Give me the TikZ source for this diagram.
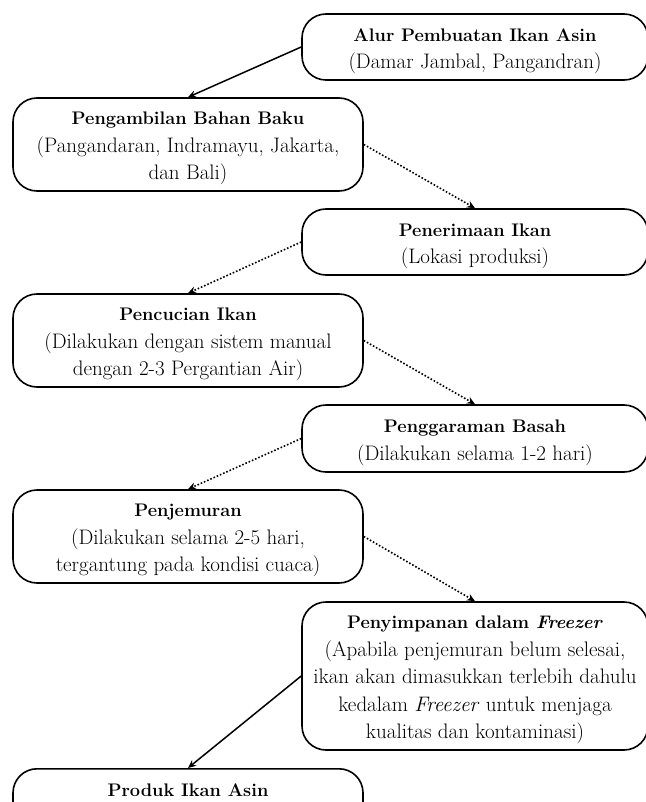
\documentclass[tikz,border=0pt]{standalone}
\usepackage{fontspec}
\usetikzlibrary{arrows.meta}
\newcommand{\ttl}{\bfseries\fontsize{18.2}{27.5}\selectfont\rule{0pt}{21pt}}
\begin{document}
\begin{tikzpicture}[x=1pt,y=-1pt,
  fbox/.style={draw, line width=1.6pt, rounded corners=24pt, inner sep=0pt,
    align=center, font=\fontsize{21}{27.5}\selectfont},
  lbox/.style={fbox, minimum width=350pt},
  rbox/.style={fbox, minimum width=346pt},
  solidarrow/.style={line width=1.5pt, -{Stealth[length=8pt,width=7pt]}},
  dotarrow/.style={line width=1.6pt, dash pattern=on 1.6pt off 1.9pt, -{Stealth[length=8pt,width=7pt]}}]
\useasboundingbox (0,0) rectangle (645,802);

\node[rbox, minimum height=66pt] (b1) at (475,47)
  {{\ttl Alur Pembuatan Ikan Asin}\\(Damar Jambal, Pangandran)};
\node[lbox, minimum height=93pt] (b2) at (188,144.5)
  {{\ttl Pengambilan Bahan Baku}\\(Pangandaran, Indramayu, Jakarta,\\dan Bali)};
\node[rbox, minimum height=66pt] (b3) at (475,242)
  {{\ttl Penerimaan Ikan}\\(Lokasi produksi)};
\node[lbox, minimum height=93pt] (b4) at (188,340.5)
  {{\ttl Pencucian Ikan}\\(Dilakukan dengan sistem manual\\dengan 2-3 Pergantian Air)};
\node[rbox, minimum height=67pt] (b5) at (475,438.5)
  {{\ttl Penggaraman Basah}\\(Dilakukan selama 1-2 hari)};
\node[lbox, minimum height=93pt] (b6) at (188,536.5)
  {{\ttl Penjemuran}\\(Dilakukan selama 2-5 hari,\\tergantung pada kondisi cuaca)};
\node[rbox, minimum height=148pt] (b7) at (475,676)
  {{\ttl Penyimpanan dalam \textit{Freezer}}\\(Apabila penjemuran belum selesai,\\ikan akan dimasukkan terlebih dahulu\\kedalam \textit{Freezer} untuk menjaga\\kualitas dan kontaminasi)};
\node[lbox, anchor=north, text height=28pt, text depth=40pt, inner ysep=0pt] (b8) at (188,768)
  {\bfseries\fontsize{18.2}{27.5}\selectfont Produk Ikan Asin};

\draw[solidarrow] (b1.west) -- (b2.north);
\draw[dotarrow] (b2.east) -- (b3.north);
\draw[dotarrow] (b3.west) -- (b4.north);
\draw[dotarrow] (b4.east) -- (b5.north);
\draw[dotarrow] (b5.west) -- (b6.north);
\draw[dotarrow] (b6.east) -- (b7.north);
\draw[solidarrow] (b7.west) -- (b8.north);
\end{tikzpicture}
\end{document}
